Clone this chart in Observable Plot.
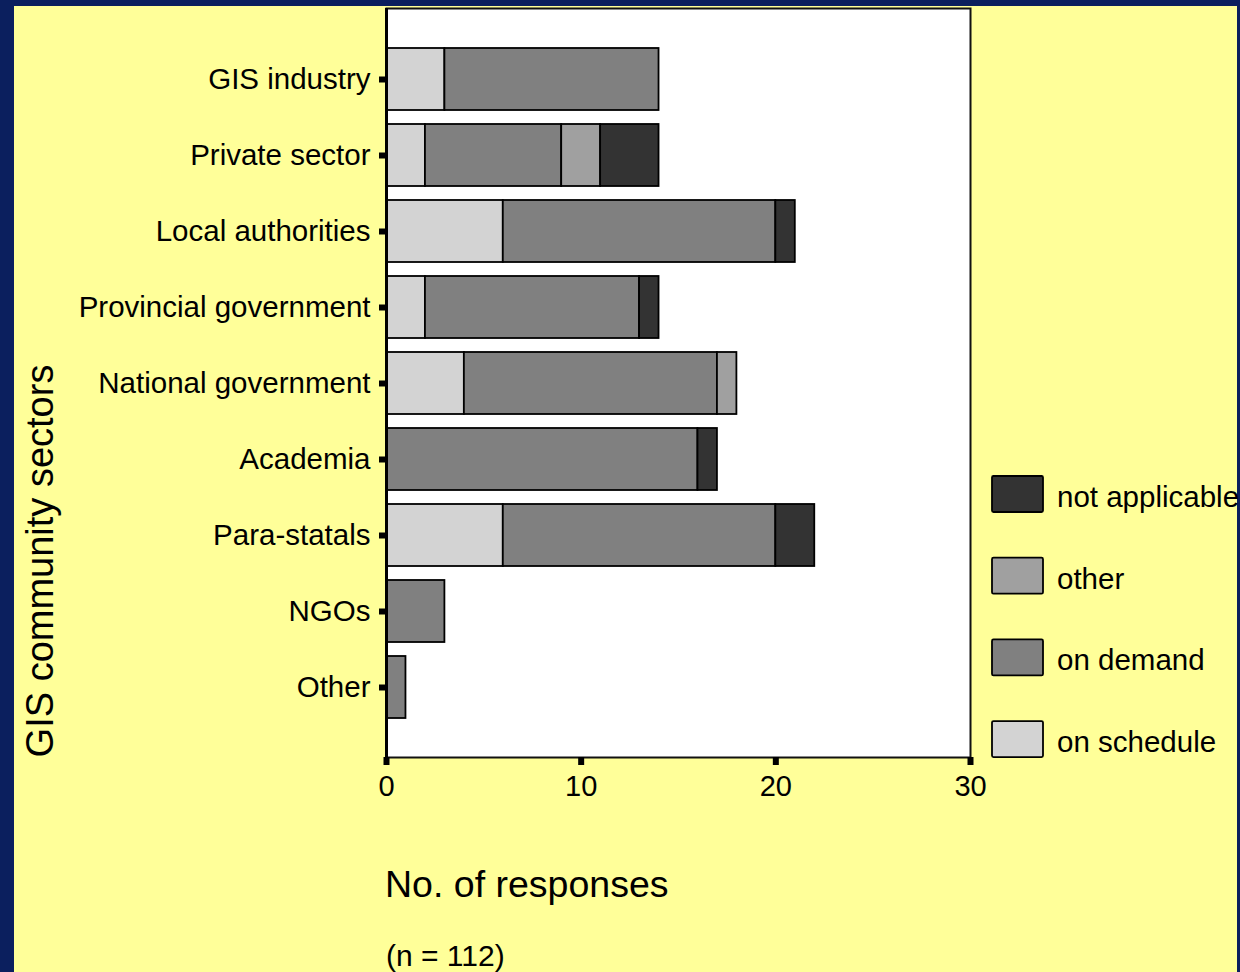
<!DOCTYPE html>
<html><head><meta charset="utf-8">
<script src="https://cdn.jsdelivr.net/npm/d3@7"></script>
<script src="https://cdn.jsdelivr.net/npm/@observablehq/plot@0.6"></script>
<style>
html,body{margin:0;padding:0;background:#0b1f5e;width:1240px;height:972px;overflow:hidden;font-family:"Liberation Sans",Arial,sans-serif;}
#panel{position:absolute;left:14px;top:6px;width:1223px;height:966px;background:#ffff99;}
#chart{position:absolute;left:0;top:0;width:1240px;height:972px;}
</style></head><body>
<div id="panel"></div>
<div id="chart"></div>
<script>
const sectors = ["GIS industry","Private sector","Local authorities","Provincial government","National government","Academia","Para-statals","NGOs","Other"];
const statuses = ["on schedule","on demand","other","not applicable"];
const onSchedule    = [3, 2, 6, 2, 4, 0, 6, 0, 0];
const onDemand      = [11, 7, 14, 11, 13, 16, 14, 3, 1];
const otherVals     = [0, 2, 0, 0, 1, 0, 0, 0, 0];
const notApplicable = [0, 3, 1, 1, 0, 1, 2, 0, 0];
const xTicks = [0, 10, 20, 30];
const colors = ["#d3d3d3", "#808080", "#a0a0a0", "#333333"];
const legendOrder = ["not applicable","other","on demand","on schedule"];

const series = [onSchedule, onDemand, otherVals, notApplicable];
const rows = [];
sectors.forEach((s, i) => {
  statuses.forEach((st, j) => {
    if (series[j][i] > 0) rows.push({sector: s, status: st, value: series[j][i]});
  });
});

const W = 1240, H = 972;
const chart = Plot.plot({
  width: W, height: H,
  marginLeft: 386, marginRight: 270, marginTop: 8, marginBottom: 215,
  style: {fontFamily: '"Liberation Sans", Arial, sans-serif', fontSize: "29.5px", background: "transparent", color: "#000", overflow: "visible"},
  x: {domain: [0, 30], ticks: xTicks},
  y: {domain: sectors, paddingInner: 0.185, paddingOuter: 0.5},
  color: {domain: statuses, range: colors},
  marks: [
    Plot.frame({fill: "white", stroke: "#111", strokeWidth: 2}),
    Plot.barX(rows, Plot.stackX({x: "value", y: "sector", fill: "status", order: statuses, stroke: "#000", strokeWidth: 1.8})),
    Plot.ruleX([0], {stroke: "#000", strokeWidth: 3}),
    Plot.ruleY([0], {frameAnchor: "bottom", stroke: "#000", strokeWidth: 3}),
    Plot.axisX({ticks: xTicks, tickSize: 8, tickPadding: 10, strokeWidth: 6, stroke: "#000", label: null, fontSize: 29}),
    Plot.axisY({tickSize: 7, tickPadding: 9, strokeWidth: 6, stroke: "#000", label: null, fontSize: 29.5})
  ]
});
document.getElementById("chart").appendChild(chart);

const svg = d3.select(chart);
const ff = '"Liberation Sans", Arial, sans-serif';
svg.append("text").attr("transform", "translate(53,561) rotate(-90)")
  .attr("text-anchor", "middle").attr("font-size", 38).attr("font-family", ff).attr("fill", "#000")
  .text("GIS community sectors");
svg.append("text").attr("x", 385).attr("y", 897).attr("text-anchor", "start")
  .attr("font-size", 37.5).attr("font-family", ff).attr("fill", "#000")
  .text("No. of responses");
svg.append("text").attr("x", 386).attr("y", 966).attr("text-anchor", "start")
  .attr("font-size", 30).attr("font-family", ff).attr("fill", "#000")
  .text("(n = 112)");

const lg = svg.append("g");
legendOrder.forEach((name, i) => {
  const y0 = 476 + i * 81.7;
  lg.append("rect").attr("x", 992).attr("y", y0).attr("width", 51).attr("height", 36)
    .attr("rx", 1.5).attr("fill", colors[statuses.indexOf(name)]).attr("stroke", "#000").attr("stroke-width", 1.8);
  lg.append("text").attr("x", 1057).attr("y", y0 + 31).attr("text-anchor", "start")
    .attr("font-size", 29.5).attr("font-family", ff).attr("fill", "#000").text(name);
});
</script>
</body></html>
